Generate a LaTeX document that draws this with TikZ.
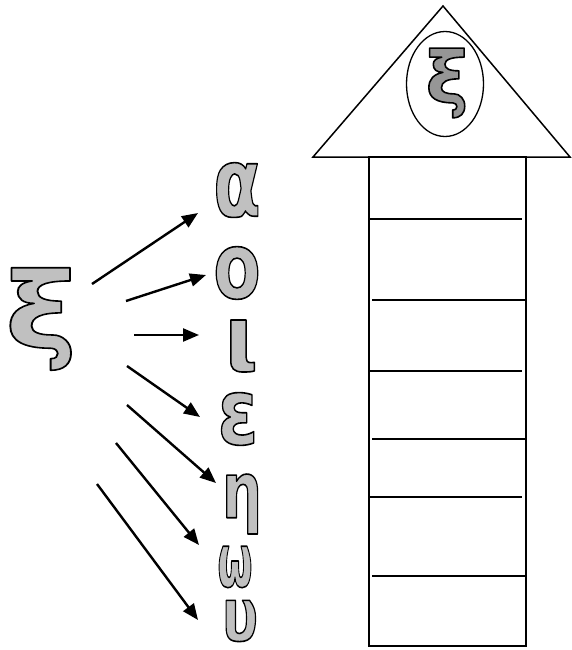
\documentclass[tikz,border=0pt]{standalone}
\usepackage{fontspec}
\setmainfont{DejaVu Sans}
\usetikzlibrary{arrows.meta,shapes.geometric}
\definecolor{lightfill}{RGB}{192,192,192}
\definecolor{darkfill}{RGB}{150,150,150}
\newcommand\outl[1]{\special{pdf:literal direct 0 G 1.6 w 1 J 1 j 2 Tr}#1\special{pdf:literal direct 0 Tr}}
\tikzset{
  glyph/.style={inner sep=0pt, text=lightfill, font=\fontsize{#1}{#1}\selectfont\bfseries},
  arr/.style={line width=2.4pt, -{Triangle[length=16pt,width=13pt]}},
  wall/.style={line width=1.5pt},
  shelf/.style={line width=2pt}
}
\begin{document}
\begin{tikzpicture}[x=1pt,y=-1pt]
\useasboundingbox (0,0) rectangle (571,650);
% tower
\coordinate (apex) at (443,6);
\coordinate (bl) at (313,157);
\coordinate (br) at (570,157);
\draw[wall] (bl) -- (apex) -- (br) -- cycle;
\node[draw, line width=1.3pt, ellipse, minimum width=77pt, minimum height=105pt, inner sep=0pt] (oval) at (445,84) {};
\node[glyph=72, text=darkfill, xscale=1.0] (xitop) at (447,83) {\outl{ξ}};
\draw[wall] (369,157) rectangle (526,646);
\draw[shelf] (369,219) -- (522,219);
\draw[shelf] (372,300) -- (525,300);
\draw[shelf] (369,371) -- (522,371);
\draw[shelf] (372,439) -- (525,439);
\draw[shelf] (369,497) -- (522,497);
\draw[shelf] (372,576) -- (525,576);
% letters
\node[glyph=106, xscale=1.15] (xi) at (41,319) {\outl{ξ}};
\node[glyph=96, xscale=0.72] (alpha) at (237,190) {\outl{α}};
\node[glyph=92, xscale=0.75] (omicron) at (237,273) {\outl{ο}};
\node[glyph=92, xscale=0.95] (iota) at (241,346) {\outl{ι}};
\node[glyph=92, xscale=0.8] (epsilon) at (238,419) {\outl{ε}};
\node[glyph=78, xscale=0.72] (eta) at (242,504) {\outl{η}};
\node[glyph=74, xscale=0.55] (omega) at (235,567) {\outl{ω}};
\node[glyph=74, xscale=0.72] (upsilon) at (240,621) {\outl{υ}};
% arrows
\coordinate (s1) at (92,284);  \coordinate (e1) at (198,213);
\coordinate (s2) at (126,301); \coordinate (e2) at (206,275);
\coordinate (s3) at (134,335); \coordinate (e3) at (199,335);
\coordinate (s4) at (127,366); \coordinate (e4) at (200,417);
\coordinate (s5) at (127,405); \coordinate (e5) at (216,483);
\coordinate (s6) at (116,443); \coordinate (e6) at (199,545);
\coordinate (s7) at (97,484);  \coordinate (e7) at (198,620);
\foreach \i in {1,...,7} \draw[arr] (s\i) -- (e\i);
\end{tikzpicture}
\end{document}
